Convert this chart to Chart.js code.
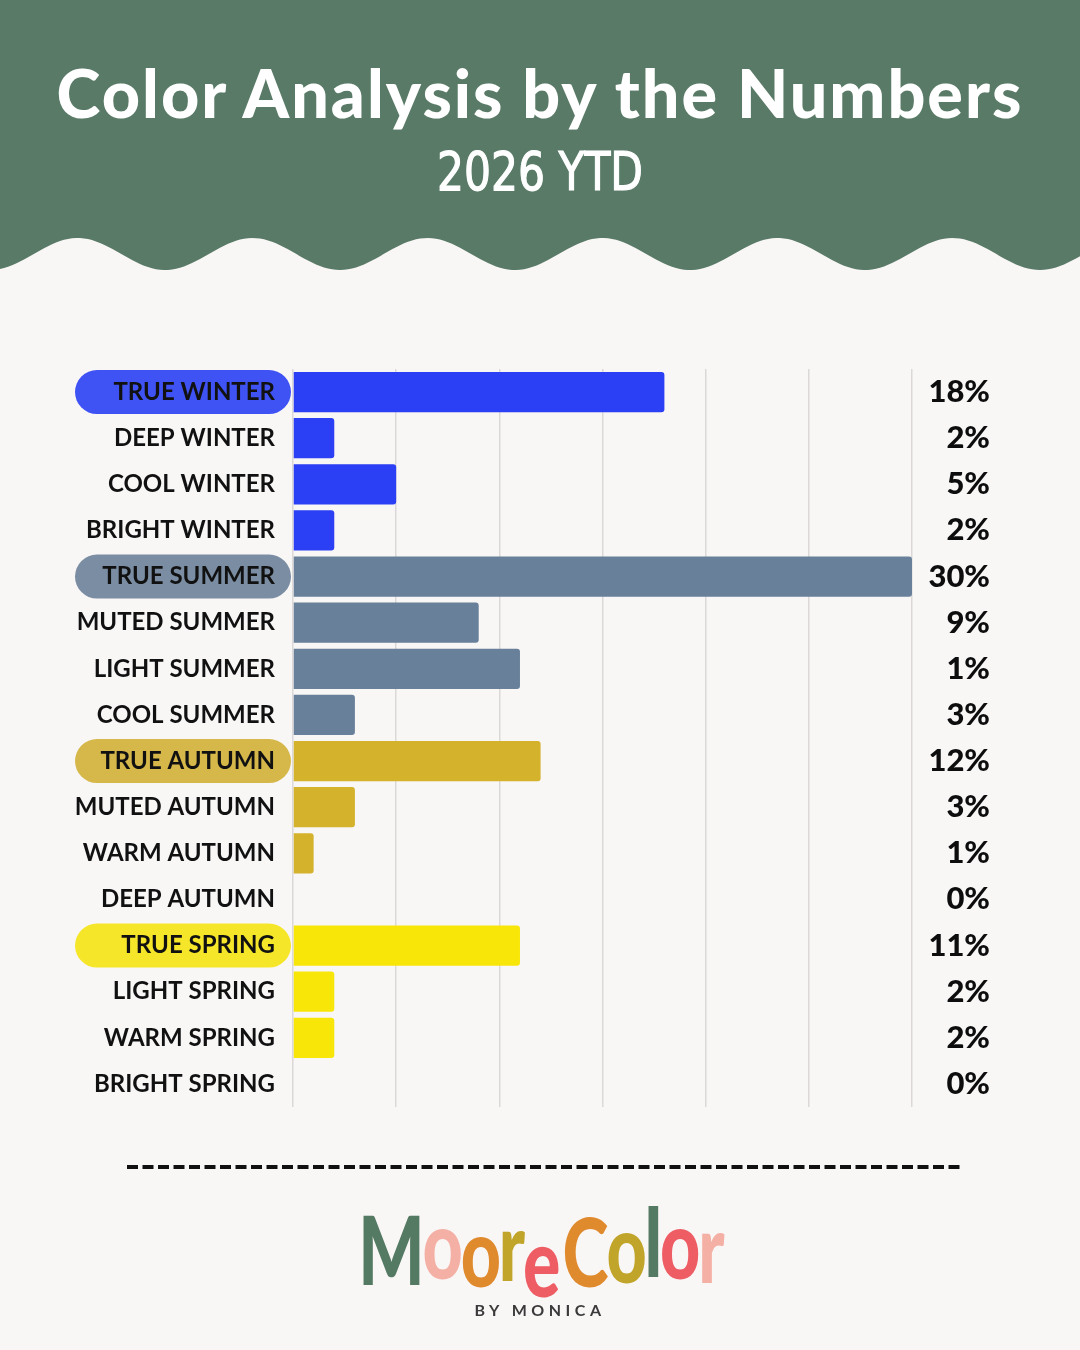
<!DOCTYPE html>
<html>
<head>
<meta charset="utf-8">
<script src="https://cdn.jsdelivr.net/npm/chart.js@4.4.1/dist/chart.umd.min.js"></script>
<style>
  html, body { margin:0; padding:0; }
  body { width:1080px; height:1350px; background:#f9f6f6; position:relative; overflow:hidden; font-family: Lato, "Open Sans", sans-serif; }
  #header { position:absolute; left:0; top:0; }
  #title { position:absolute; left:0; width:1080px; top:59px; text-align:center; color:#fff; font-family:Lato, sans-serif; font-weight:900; white-space:nowrap; line-height:1; letter-spacing:2px; }
  #subtitle { position:absolute; left:0; width:1080px; top:145px; text-align:center; color:#fff; font-family:"DejaVu Sans Condensed","Liberation Sans Narrow",sans-serif; font-weight:400; white-space:nowrap; line-height:1; transform-origin:center top; transform:scaleY(1.12); -webkit-text-stroke:1px #fff; }
  #chartWrap { position:absolute; left:0; top:0; width:1080px; height:1350px; }
  #dash { position:absolute; left:0; top:0; }
  #logo { position:absolute; left:0; width:1080px; top:1200px; text-align:center; white-space:nowrap; line-height:1; }
  #logoText { display:inline-block; font-family:Lato, sans-serif; font-weight:900; font-size:96px; letter-spacing:-3px; transform-origin:center top; }
  #logoText span { display:inline-block; }
  #byline { position:absolute; left:0; width:1080px; top:1300px; text-align:center; color:#3a3a3a; font-family:Lato, sans-serif; font-weight:700; font-size:16px; letter-spacing:4.5px; }
</style>
</head>
<body>
<svg id="header" width="1080" height="290" xmlns="http://www.w3.org/2000/svg"><path id="wave" fill="#587a66"/></svg>
<div id="title">Color Analysis by the Numbers</div>
<div id="subtitle">2026 YTD</div>
<div id="chartWrap"><canvas id="chart" width="1080" height="1350"></canvas></div>
<svg id="dash" width="1080" height="1350" xmlns="http://www.w3.org/2000/svg">
  <line x1="127" y1="1167" x2="960" y2="1167" stroke="#111" stroke-width="4" stroke-dasharray="11 4.5"/>
</svg>
<div id="logo"><div id="logoText"></div></div>
<div id="byline">BY MONICA</div>
<script>
// ---------------- DATA ----------------
const categories = ['TRUE WINTER','DEEP WINTER','COOL WINTER','BRIGHT WINTER',
  'TRUE SUMMER','MUTED SUMMER','LIGHT SUMMER','COOL SUMMER',
  'TRUE AUTUMN','MUTED AUTUMN','WARM AUTUMN','DEEP AUTUMN',
  'TRUE SPRING','LIGHT SPRING','WARM SPRING','BRIGHT SPRING'];
const seasons = ['winter','winter','winter','winter',
  'summer','summer','summer','summer',
  'autumn','autumn','autumn','autumn',
  'spring','spring','spring','spring'];
const shares = [18, 2, 5, 2, 30, 9, 11, 3, 12, 3, 1, 0, 11, 2, 2, 0];
const shareLabels = ['18%','2%','5%','2%','30%','9%','1%','3%','12%','3%','1%','0%','11%','2%','2%','0%'];
const highlighted = [true,false,false,false,true,false,false,false,true,false,false,false,true,false,false,false];
const xTickValues = [0, 5, 10, 15, 20, 25, 30];

// ---------------- STYLE ----------------
const barColors = { winter:'#2b3ff4', summer:'#68809a', autumn:'#d4b22b', spring:'#f7e608' };
const pillColors = { winter:'#3f52f4', summer:'#7a8da2', autumn:'#d6b84a', spring:'#f5e62a' };

// header wave
(function(){
  const P = 175, x0 = 165, mid = 254, amp = 16;
  let d = 'M0,0 L1080,0 ';
  for (let x = 1080; x >= 0; x -= 4) {
    const y = mid + amp * Math.cos(2*Math.PI*(x - x0)/P);
    d += 'L' + x + ',' + y.toFixed(2) + ' ';
  }
  d += 'Z';
  document.getElementById('wave').setAttribute('d', d);
})();

// fit texts
function fitFont(el, family, weight, target, spacing) {
  const c = document.createElement('canvas').getContext('2d');
  c.font = weight + ' 100px ' + family;
  const txt = el.textContent;
  const w = c.measureText(txt).width;
  const t = target - (spacing || 0) * (txt.length - 1);
  el.style.fontSize = (100 * t / w).toFixed(2) + 'px';
}
fitFont(document.getElementById('title'), 'Lato', '900', 970, 2);
fitFont(document.getElementById('subtitle'), '"DejaVu Sans Condensed"', '400', 206, 0);

// logo
(function(){
  const letters = ['M','o','o','r','e','C','o','l','o','r'];
  const cols = ['#557a63','#f4b0a4','#e08a2e','#c0a52a','#ee5c64','#e08a2e','#c0a52a','#557a63','#ee5c64','#f4b0a4'];
  const offs = [0,-6,2,-4,12,2,-2,-8,-6,-2];
  const lt = document.getElementById('logoText');
  letters.forEach((ch,i)=>{
    const s = document.createElement('span');
    s.textContent = ch; s.style.color = cols[i];
    s.style.transform = 'translateY(' + offs[i] + 'px)';
    if (i === 5) s.style.marginLeft = '6px';
    lt.appendChild(s);
  });
  const w = lt.getBoundingClientRect().width;
  lt.style.transform = 'scaleX(' + (364 / w).toFixed(3) + ')';
})();

// ---------------- CHART ----------------
const pillPlugin = {
  id: 'pills',
  beforeDraw(chart) {
    const ctx = chart.ctx, y = chart.scales.y;
    ctx.save();
    categories.forEach((c, i) => {
      if (!highlighted[i]) return;
      const cy = y.getPixelForValue(i);
      const h = 44, x1 = 75, x2 = 291, r = h / 2;
      ctx.fillStyle = pillColors[seasons[i]];
      ctx.beginPath();
      ctx.roundRect(x1, cy - r, x2 - x1, h, r);
      ctx.fill();
    });
    ctx.restore();
  }
};

new Chart(document.getElementById('chart'), {
  type: 'bar',
  data: {
    labels: categories,
    datasets: [{
      data: shares,
      backgroundColor: seasons.map(s => barColors[s]),
      borderRadius: 3,
      borderSkipped: 'start',
      barPercentage: 0.87,
      categoryPercentage: 1.0,
      xAxisID: 'x',
      yAxisID: 'y'
    }]
  },
  options: {
    indexAxis: 'y',
    responsive: false,
    animation: false,
    events: [],
    layout: { padding: { top: 369, bottom: 243, left: 0, right: 90 } },
    plugins: { legend: { display: false }, tooltip: { enabled: false } },
    scales: {
      x: {
        type: 'linear', position: 'bottom', min: 0, max: 30,
        afterBuildTicks: (scale) => { scale.ticks = xTickValues.map(v => ({ value: v })); },
        ticks: { display: false },
        grid: { color: '#dcd8d8', lineWidth: 1.5, drawTicks: false },
        border: { display: false }
      },
      y: {
        type: 'category', position: 'left', offset: true,
        grid: { display: false, drawTicks: false },
        border: { display: false },
        afterFit: (scale) => { scale.width = 293; },
        ticks: { padding: 18, color: '#111', crossAlign: 'near',
          font: { family: 'Lato', weight: '700', size: 24 } }
      },
      y2: {
        type: 'category', position: 'right', offset: true, labels: shareLabels,
        grid: { display: false, drawTicks: false },
        border: { display: false },
        afterFit: (scale) => { scale.width = 78; },
        ticks: { padding: 8, color: '#0d0d0d', crossAlign: 'far',
          font: { family: 'Lato', weight: '900', size: 31 } }
      }
    }
  },
  plugins: [pillPlugin]
});
</script>
</body>
</html>
